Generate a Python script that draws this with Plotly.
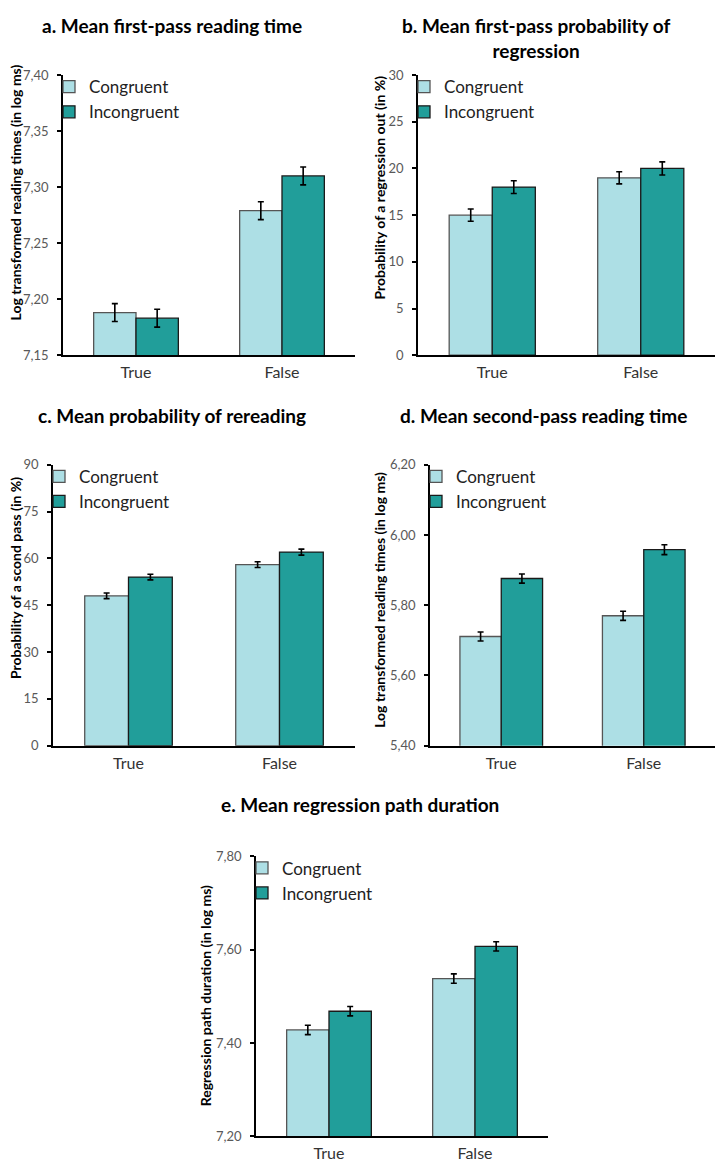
import plotly.graph_objects as go

W, H = 715, 1170

categories = ["True", "False"]
series_names = ["Congruent", "Incongruent"]

# a. Mean first-pass reading time
a_cong = [7.188, 7.279]
a_cong_err = [0.008, 0.008]
a_incong = [7.183, 7.310]
a_incong_err = [0.008, 0.008]
a_ticks = [7.15, 7.20, 7.25, 7.30, 7.35, 7.40]
a_ticktext = ["7,15", "7,20", "7,25", "7,30", "7,35", "7,40"]

# b. Mean first-pass probability of regression
b_cong = [15, 19]
b_cong_err = [0.65, 0.65]
b_incong = [18, 20]
b_incong_err = [0.68, 0.7]
b_ticks = [0, 5, 10, 15, 20, 25, 30]
b_ticktext = ["0", "5", "10", "15", "20", "25", "30"]

# c. Mean probability of rereading
c_cong = [48, 58]
c_cong_err = [0.9, 0.9]
c_incong = [54, 62]
c_incong_err = [0.9, 0.95]
c_ticks = [0, 15, 30, 45, 60, 75, 90]
c_ticktext = ["0", "15", "30", "45", "60", "75", "90"]

# d. Mean second-pass reading time
d_cong = [5.711, 5.770]
d_cong_err = [0.013, 0.013]
d_incong = [5.876, 5.958]
d_incong_err = [0.013, 0.014]
d_ticks = [5.40, 5.60, 5.80, 6.00, 6.20]
d_ticktext = ["5,40", "5,60", "5,80", "6,00", "6,20"]

# e. Mean regression path duration
e_cong = [7.428, 7.538]
e_cong_err = [0.01, 0.01]
e_incong = [7.468, 7.607]
e_incong_err = [0.01, 0.01]
e_ticks = [7.20, 7.40, 7.60, 7.80]
e_ticktext = ["7,20", "7,40", "7,60", "7,80"]

titles = [
    "a. Mean first-pass reading time",
    "b. Mean first-pass probability of<br>regression",
    "c. Mean probability of rereading",
    "d. Mean second-pass reading time",
    "e. Mean regression path duration",
]
ytitles = [
    "Log transformed reading times (in log ms)",
    "Probability of a regression out (in %)",
    "Probability of a scond pass (in %)",
    "Log transformed reading times (in log ms)",
    "Regression path duration (in log ms)",
]

COL_CONG = "#ADDFE5"
COL_INC = "#219E9A"
FONT = "Lato"

# panel geometry in pixels: x0, x1, ytop, ybot
panels = [
    (63, 355, 68, 352),
    (418, 715, 68, 352),
    (53, 355, 463, 748),
    (430, 715, 463, 748),
    (256, 548, 860, 1144),
]
title_pos = [(172, 18), (536, 30), (172, 413), (543, 413), (360, 808)]
ytitle_pos = [(15, 187), (380, 182), (15, 578), (380, 600), (205, 1002)]

data = [
    (a_cong, a_cong_err, a_incong, a_incong_err, a_ticks, a_ticktext),
    (b_cong, b_cong_err, b_incong, b_incong_err, b_ticks, b_ticktext),
    (c_cong, c_cong_err, c_incong, c_incong_err, c_ticks, c_ticktext),
    (d_cong, d_cong_err, d_incong, d_incong_err, d_ticks, d_ticktext),
    (e_cong, e_cong_err, e_incong, e_incong_err, e_ticks, e_ticktext),
]

fig = go.Figure()
annotations = []
layout = {}

for i, ((cong, cerr, inc, ierr, ticks, ticktext), (x0, x1, yt, yb)) in enumerate(zip(data, panels)):
    n = "" if i == 0 else str(i + 1)
    xa = "x" + n
    ya = "y" + n
    lg = "legend" + n
    for name, vals, errs, col, lc in [
        (series_names[0], cong, cerr, COL_CONG, "#555555"),
        (series_names[1], inc, ierr, COL_INC, "#1a1a1a"),
    ]:
        fig.add_trace(go.Bar(
            x=categories, y=vals, name=name,
            marker=dict(color=col, line=dict(color=lc, width=1.3)),
            error_y=dict(type="data", array=errs, visible=True,
                         color="black", thickness=1.6, width=3),
            xaxis=xa, yaxis=ya, legend=lg, showlegend=True,
        ))
    layout["xaxis" + n] = dict(
        domain=[x0 / W, x1 / W], anchor=ya,
        showline=True, linecolor="black", linewidth=1.8,
        ticks="", showgrid=False, zeroline=False,
        tickfont=dict(family=FONT, size=16, color="#333333"),
        ticklabelstandoff=2, fixedrange=True,
    )
    layout["yaxis" + n] = dict(
        domain=[1 - yb / H, 1 - yt / H], anchor=xa,
        range=[ticks[0], ticks[-1]],
        tickvals=ticks, ticktext=ticktext,
        showline=True, linecolor="black", linewidth=1.8,
        ticks="outside", ticklen=4, tickwidth=1.5, tickcolor="black",
        showgrid=False, zeroline=False,
        tickfont=dict(family=FONT, size=13, color="#595959"),
        ticklabelstandoff=6,
    )
    layout[lg] = dict(
        x=(x0 - 14) / W, y=1 - (yt - 6) / H, xanchor="left", yanchor="top",
        bgcolor="rgba(0,0,0,0)", borderwidth=0,
        font=dict(family=FONT, size=17, color="#222222"),
        itemwidth=30, tracegroupgap=0,
    )
    tx, ty = title_pos[i]
    annotations.append(dict(
        text="<b>" + titles[i] + "</b>", x=tx / W, y=1 - ty / H,
        xref="paper", yref="paper", showarrow=False,
        xanchor="center", yanchor="middle",
        font=dict(family=FONT, size=19, color="black"),
    ))
    yx, yy = ytitle_pos[i]
    annotations.append(dict(
        text="<b>" + ytitles[i] + "</b>", x=yx / W, y=1 - yy / H,
        xref="paper", yref="paper", showarrow=False, textangle=-90,
        xanchor="center", yanchor="middle",
        font=dict(family=FONT, size=14, color="black"),
    ))

fig.update_layout(
    width=W, height=H,
    margin=dict(l=0, r=0, t=0, b=0),
    paper_bgcolor="white", plot_bgcolor="white",
    barmode="group", bargap=0.42, bargroupgap=0,
    annotations=annotations,
    **layout,
)

fig.write_html(
    "out.html",
    config={"displayModeBar": False},
    post_script="document.body.style.margin='0';document.body.style.overflow='hidden';",
)
